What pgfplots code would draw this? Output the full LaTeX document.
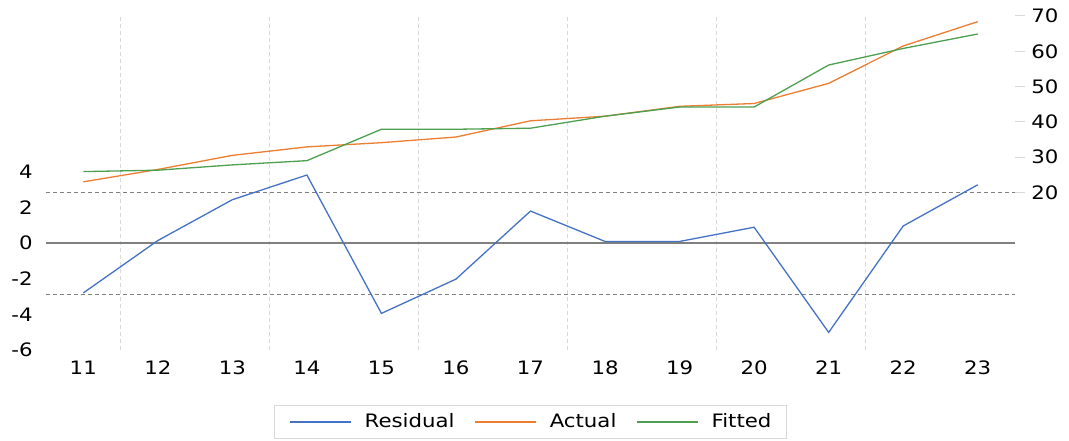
\documentclass[border=0pt]{standalone}
\usepackage{fontspec}
\setmainfont{DejaVu Sans}[FakeStretch=1.15]
\usepackage{pgfplots}
\pgfplotsset{compat=1.18}
\definecolor{cBlue}{RGB}{68,114,196}
\definecolor{cOrange}{RGB}{237,125,49}
\definecolor{cGreen}{RGB}{76,160,80}
\definecolor{gridc}{RGB}{217,217,217}
\definecolor{refc}{RGB}{128,128,128}
\begin{document}
\fontsize{18.5}{22}\selectfont
\begin{tikzpicture}
\path[use as bounding box] (-46pt,-91pt) rectangle (1023pt,350pt);
\begin{axis}[
  scale only axis, width=969pt, height=334pt,
  xmin=10.5, xmax=23.5, ymin=-6.01, ymax=12.79,
  axis line style={draw=none},
  xtick={11,12,13,14,15,16,17,18,19,20,21,22,23},
  xticklabels={11,12,13,14,15,16,17,18,19,20,21,22,23},
  ytick={-6,-4,-2,0,2,4},
  yticklabels={-6,-4,-2,0,2,4},
  tick style={draw=none},
  major tick length=0pt,
  /pgf/number format/assume math mode=true,
  xticklabel style={yshift=-4.5pt},
  yticklabel style={xshift=-7pt},
  extra x ticks={11.5,13.5,15.5,17.5,19.5,21.5},
  extra x tick labels={},
  extra x tick style={grid=major, major grid style={gridc, dash pattern=on 4pt off 3pt, line width=1pt}},
  clip=false,
]
\addplot[refc, line width=1pt, dash pattern=on 4pt off 3pt] coordinates {(10.5,2.87) (23.5,2.87)};
\addplot[refc, line width=1pt, dash pattern=on 4pt off 3pt] coordinates {(10.5,-2.87) (23.5,-2.87)};
\addplot[refc, line width=1.8pt] coordinates {(10.5,0) (23.5,0)};
\addplot[cBlue, line width=1.3pt] coordinates {
(11,-2.8) (12,0.15) (13,2.45) (14,3.84) (15,-3.95) (16,-2.02) (17,1.81)
(18,0.1) (19,0.1) (20,0.9) (21,-5.02) (22,0.97) (23,3.29)};
\end{axis}
\begin{axis}[
  scale only axis, width=969pt, height=334pt,
  xmin=10.5, xmax=23.5, ymin=-24.66, ymax=70,
  axis y line*=right, axis x line=none,
  axis line style={draw=none},
  ytick={20,30,40,50,60,70},
  yticklabels={20,30,40,50,60,70},
  tick align=outside, major tick length=10pt,
  tick style={gridc, line width=1pt},
  /pgf/number format/assume math mode=true,
  legend style={at={(0.5,0)}, anchor=center, yshift=-72pt,
    draw=gridc, line width=0.8pt, legend columns=-1,
    inner xsep=15pt, inner ysep=5pt,
    nodes={inner xsep=0pt, inner ysep=3pt},
    /tikz/every odd column/.append style={column sep=13pt},
    /tikz/every even column/.append style={column sep=20pt}},
  legend image code/.code={\draw[#1, line width=1.2pt] (0pt,0pt) -- (61pt,0pt);},
]
\addlegendimage{cBlue}
\addlegendentry{Residual}
\addplot[cOrange, line width=1.3pt] coordinates {
(11,23.0) (12,26.5) (13,30.5) (14,32.9) (15,34.1) (16,35.7) (17,40.3)
(18,41.6) (19,44.4) (20,45.2) (21,50.9) (22,61.5) (23,68.4)};
\addlegendentry{Actual}
\addplot[cGreen, line width=1.3pt] coordinates {
(11,25.9) (12,26.3) (13,27.8) (14,29.0) (15,37.9) (16,37.9) (17,38.2)
(18,41.6) (19,44.2) (20,44.2) (21,56.1) (22,60.8) (23,64.9)};
\addlegendentry{Fitted}
\end{axis}
\end{tikzpicture}
\end{document}
